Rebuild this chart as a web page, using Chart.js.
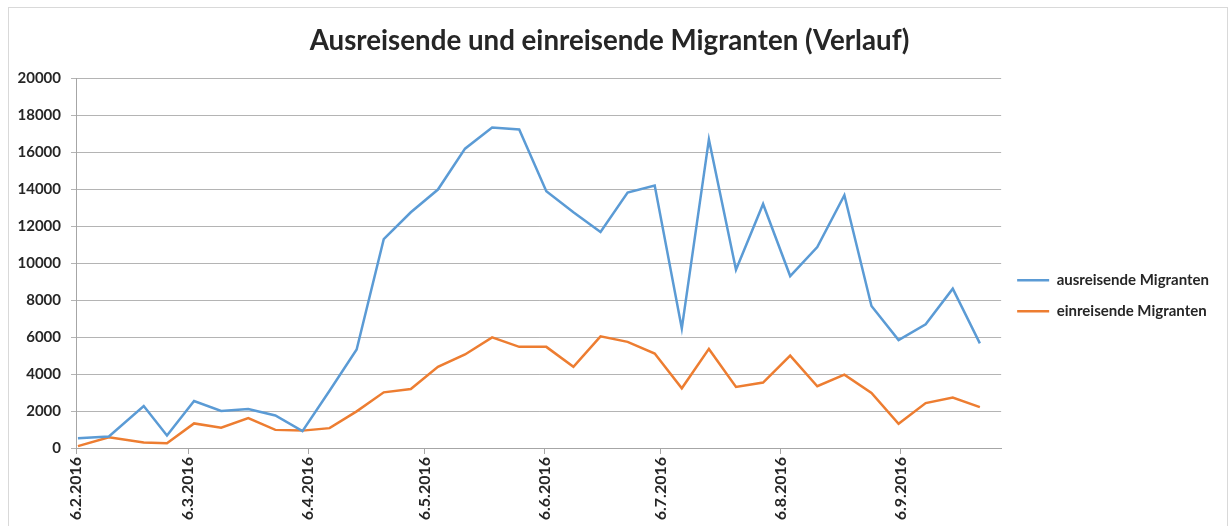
<!DOCTYPE html>
<html>
<head>
<meta charset="utf-8">
<title>Ausreisende und einreisende Migranten (Verlauf)</title>
<script src="https://cdn.jsdelivr.net/npm/chart.js@4.4.1/dist/chart.umd.min.js"></script>
<style>
    body { margin: 0; background: #fff; }
    #wrap { position: relative; width: 1229px; height: 526px; overflow: hidden; }
    #frame { position: absolute; left: 8px; top: 7px; width: 1218px; height: 530px; border: 1px solid #d9d9d9; }
    #chartBox { position: absolute; left: 0; top: 0; width: 1229px; height: 526px; }
</style>
</head>
<body>
<div id="wrap">
    <div id="frame"></div>
    <div id="chartBox"><canvas id="migChart"></canvas></div>
</div>
<script>
// weekly dates of the series
const dates = [
    '2016-02-06', '2016-02-14', '2016-02-23', '2016-02-29',
    '2016-03-07', '2016-03-14', '2016-03-21', '2016-03-28',
    '2016-04-04', '2016-04-11', '2016-04-18', '2016-04-25',
    '2016-05-02', '2016-05-09', '2016-05-16', '2016-05-23', '2016-05-30',
    '2016-06-06', '2016-06-13', '2016-06-20', '2016-06-27',
    '2016-07-04', '2016-07-11', '2016-07-18', '2016-07-25',
    '2016-08-01', '2016-08-08', '2016-08-15', '2016-08-22', '2016-08-29',
    '2016-09-05', '2016-09-12', '2016-09-19', '2016-09-26'
];
const ausreisende = [
    530, 620, 2270, 680,
    2540, 2000, 2110, 1760,
    910, 3100, 5330, 11300,
    12750, 13980, 16190, 17340, 17230,
    13890, 12750, 11680, 13820,
    14200, 6470, 16690, 9640,
    13200, 9300, 10870, 13670, 7680,
    5840, 6690, 8620, 5660
];
const einreisende = [
    100, 580, 300, 260,
    1330, 1100, 1620, 980,
    940, 1075, 1980, 3010,
    3190, 4390, 5060, 5980, 5470,
    5470, 4390, 6040, 5740,
    5110, 3230, 5360, 3300,
    3540, 5000, 3340, 3970, 2980,
    1310, 2430, 2730, 2210
];
const seriesNames = ['ausreisende Migranten', 'einreisende Migranten'];
// month ticks on the date axis
const tickDates = [
    '2016-02-06', '2016-03-06', '2016-04-06', '2016-05-06',
    '2016-06-06', '2016-07-06', '2016-08-06', '2016-09-06'
];
const axisEnd = '2016-10-02';

const dayMs = 86400000;
const start = Date.parse(dates[0]);
function dayOf(d) { return Math.round((Date.parse(d) - start) / dayMs); }
function fmt(d) {
    const p = d.split('-');
    return parseInt(p[2], 10) + '.' + parseInt(p[1], 10) + '.' + p[0];
}
// Excel puts each point in the middle of its day
function toPoints(values) {
    return values.map((v, i) => ({ x: dayOf(dates[i]) + 0.5, y: v }));
}
const tickLabels = {};
tickDates.forEach(d => { tickLabels[dayOf(d)] = fmt(d); });

const ctx = document.getElementById('migChart').getContext('2d');
const chart = new Chart(ctx, {
    type: 'line',
    data: {
        datasets: [
            {
                label: seriesNames[0],
                data: toPoints(ausreisende),
                borderColor: '#5b9bd5',
                backgroundColor: '#5b9bd5',
                borderWidth: 2.5,
                pointRadius: 0,
                tension: 0
            },
            {
                label: seriesNames[1],
                data: toPoints(einreisende),
                borderColor: '#ed7d31',
                backgroundColor: '#ed7d31',
                borderWidth: 2.5,
                pointRadius: 0,
                tension: 0
            }
        ]
    },
    options: {
        responsive: true,
        maintainAspectRatio: false,
        animation: false,
        layout: { padding: { top: 8, right: 10, bottom: 0, left: 0 } },
        plugins: {
            title: {
                display: true,
                text: 'Ausreisende und einreisende Migranten (Verlauf)',
                color: '#262626',
                font: { family: 'Lato', size: 27.7, weight: 'bold' },
                padding: { top: 16, bottom: 21 }
            },
            legend: {
                position: 'right',
                // empty title just pushes the items a bit lower, like Excel
                title: { display: true, text: ' ', font: { size: 12 }, padding: { top: 0, bottom: 43 } },
                labels: {
                    color: '#262626',
                    font: { family: 'Lato', size: 15, weight: 'bold' },
                    usePointStyle: true,
                    pointStyle: 'line',
                    pointStyleWidth: 32,
                    padding: 16
                }
            },
            tooltip: { enabled: false }
        },
        scales: {
            x: {
                type: 'linear',
                min: 0,
                max: dayOf(axisEnd),
                afterBuildTicks: function(scale) {
                    scale.ticks = tickDates.map(d => ({ value: dayOf(d) }));
                },
                afterFit: function(scale) { scale.height = 78; },
                grid: { drawOnChartArea: false, drawTicks: true, tickLength: 6, color: '#a6a6a6' },
                border: { color: '#a6a6a6' },
                ticks: {
                    autoSkip: false,
                    minRotation: 90,
                    maxRotation: 90,
                    padding: 3,
                    color: '#262626',
                    font: { family: 'Lato', size: 16, weight: 'bold' },
                    callback: function(value) { return tickLabels[value] || ''; }
                }
            },
            y: {
                min: 0,
                max: 20000,
                afterFit: function(scale) { scale.width = 76; },
                grid: { color: '#b4b4b4', tickLength: 5 },
                border: { color: '#a6a6a6' },
                ticks: {
                    stepSize: 2000,
                    padding: 10,
                    color: '#262626',
                    font: { family: 'Lato', size: 15, weight: 'bold' },
                    callback: function(value) { return String(value); }
                }
            }
        }
    }
});
</script>
</body>
</html>
